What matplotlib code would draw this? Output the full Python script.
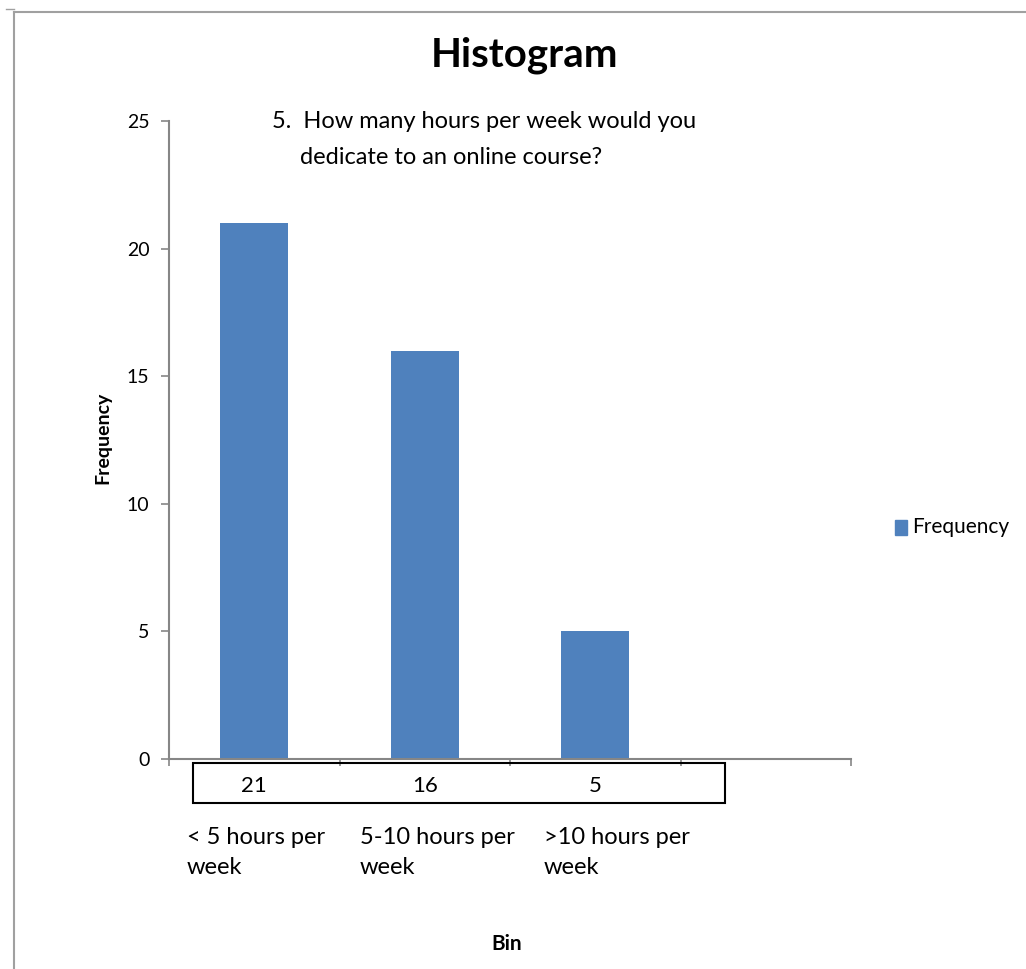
import matplotlib
matplotlib.use("Agg")
import matplotlib.pyplot as plt
from matplotlib.patches import Rectangle
from matplotlib.lines import Line2D

categories = ["< 5 hours per\nweek", "5-10 hours per\nweek", ">10 hours per\nweek"]
frequencies = [21, 16, 5]
y_ticks = [0, 5, 10, 15, 20, 25]

BLUE = "#4F81BD"
GRAY = "#868686"
FONT = "Lato"

fig = plt.figure(figsize=(10.26, 9.69), dpi=100)
W, H = 1026, 969

def fx(px):
    return px / W

def fy(py):
    return 1 - py / H

# outer frame lines (top and left)
fig.add_artist(Line2D([fx(14), 1.0], [fy(12), fy(12)], color="#A0A0A0", lw=1.5))
fig.add_artist(Line2D([fx(14), fx(14)], [fy(12), 0.0], color="#A0A0A0", lw=1.5))
fig.add_artist(Line2D([fx(6), fx(14)], [fy(9), fy(9)], color="#A0A0A0", lw=1.0))

ax = fig.add_axes([fx(169), fy(759), fx(851) - fx(169), fy(121) - fy(759)])
n_slots = 4
pos = [i + 0.5 for i in range(len(frequencies))]
ax.bar(pos, frequencies, width=0.4, color=BLUE, label="Frequency", zorder=2)
ax.set_xlim(0, n_slots)
ax.set_ylim(0, 25)
ax.set_yticks(y_ticks)
ax.set_yticklabels([str(t) for t in y_ticks], fontsize=14, family=FONT)
ax.set_xticks(range(n_slots + 1))
ax.set_xticklabels([])
ax.tick_params(axis="x", direction="out", length=5, color=GRAY, width=1.2)
ax.tick_params(axis="y", direction="out", length=6, color=GRAY, width=1.2, pad=8)
for s in ["top", "right"]:
    ax.spines[s].set_visible(False)
for s in ["left", "bottom"]:
    ax.spines[s].set_color(GRAY)
    ax.spines[s].set_linewidth(1.5)

# data table box
tb = Rectangle((fx(193), fy(803)), fx(725) - fx(193), fy(763) - fy(803),
               transform=fig.transFigure, fill=False, edgecolor="black", lw=1.5)
fig.add_artist(tb)
for p, v in zip(pos, frequencies):
    xd = ax.transData.transform((p, 0))[0]
    xf = fig.transFigure.inverted().transform((xd, 0))[0]
    fig.text(xf, fy(786), str(v), ha="center", va="center", fontsize=16, family=FONT)

# category labels (left aligned)
label_x = [187, 360, 544]
for lx, c in zip(label_x, categories):
    l1, l2 = c.split("\n")
    fig.text(fx(lx), fy(838), l1, ha="left", va="center", fontsize=17, family=FONT)
    fig.text(fx(lx), fy(868), l2, ha="left", va="center", fontsize=17, family=FONT)

fig.text(fx(525), fy(55), "Histogram", ha="center", va="center", fontsize=29,
         fontweight="bold", family=FONT)
fig.text(fx(272), fy(121), "5.  How many hours per week would you",
         ha="left", va="center", fontsize=17, family=FONT)
fig.text(fx(300), fy(157), "dedicate to an online course?",
         ha="left", va="center", fontsize=17, family=FONT)
fig.text(fx(507), fy(944), "Bin", ha="center", va="center", fontsize=15,
         fontweight="bold", family=FONT)
fig.text(fx(103), fy(438), "Frequency", ha="center", va="center", rotation=90,
         fontsize=14, fontweight="bold", family=FONT)

# legend
fig.add_artist(Rectangle((fx(895), fy(535)), fx(907) - fx(895), fy(520) - fy(535),
                         transform=fig.transFigure, color=BLUE))
fig.text(fx(912), fy(527), "Frequency", ha="left", va="center", fontsize=15, family=FONT)

fig.savefig("out.png", dpi=100)
